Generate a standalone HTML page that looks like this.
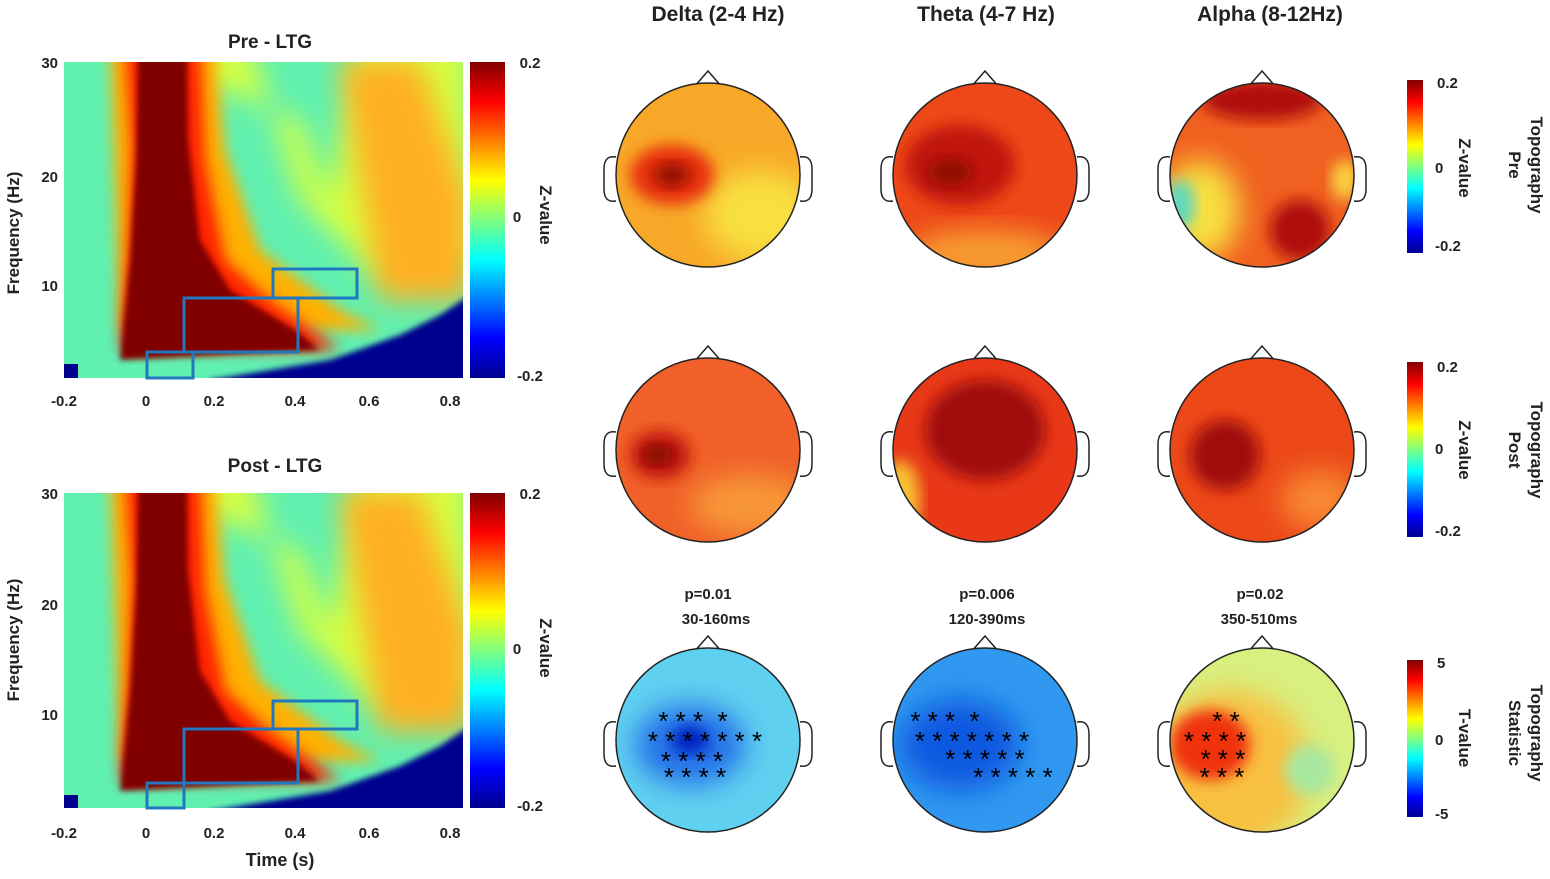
<!DOCTYPE html>
<html><head><meta charset="utf-8">
<style>
body{margin:0;background:#fff;}
svg text{font-family:"Liberation Sans",Arial,sans-serif;font-weight:bold;fill:#222;}
svg text.st{font-weight:normal;fill:#000;}
</style></head><body>
<svg width="1550" height="874" viewBox="0 0 1550 874" xmlns="http://www.w3.org/2000/svg">
<defs>
<linearGradient id="jet" x1="0" y1="1" x2="0" y2="0">
<stop offset="0" stop-color="#00008f"/><stop offset="0.125" stop-color="#0000ff"/>
<stop offset="0.375" stop-color="#00ffff"/><stop offset="0.625" stop-color="#ffff00"/>
<stop offset="0.875" stop-color="#ff0000"/><stop offset="1" stop-color="#800000"/>
</linearGradient>
<filter id="bl" x="-20%" y="-20%" width="140%" height="140%"><feGaussianBlur stdDeviation="7"/></filter>
<filter id="bl3" x="-20%" y="-20%" width="140%" height="140%"><feGaussianBlur stdDeviation="3"/></filter>
<filter id="bl2" x="-30%" y="-30%" width="160%" height="160%"><feGaussianBlur stdDeviation="14"/></filter>
<clipPath id="c1"><rect x="64" y="62" width="399" height="316"/></clipPath>
<clipPath id="c2"><rect x="64" y="493" width="399" height="315"/></clipPath>
<clipPath id="h1"><circle cx="708" cy="175" r="92"/></clipPath>
<clipPath id="h2"><circle cx="985" cy="175" r="92"/></clipPath>
<clipPath id="h3"><circle cx="1262" cy="175" r="92"/></clipPath>
<clipPath id="h4"><circle cx="708" cy="450" r="92"/></clipPath>
<clipPath id="h5"><circle cx="985" cy="450" r="92"/></clipPath>
<clipPath id="h6"><circle cx="1262" cy="450" r="92"/></clipPath>
<clipPath id="h7"><circle cx="708" cy="740" r="92"/></clipPath>
<clipPath id="h8"><circle cx="985" cy="740" r="92"/></clipPath>
<clipPath id="h9"><circle cx="1262" cy="740" r="92"/></clipPath>
<g id="hd" fill="#fff" stroke="#222" stroke-width="1.5"><polygon points="-14,-88 0,-104 14,-88"/><path d="M-92,-18 q-12,-2 -12,12 v20 q0,14 12,12"/><path d="M92,-18 q12,-2 12,12 v20 q0,14 -12,12"/></g>
<g id="heat">
<rect x="40" y="40" width="450" height="360" fill="#60f0b0"/>
<polygon points="100,40 250,40 300,200 380,280 470,260 470,40 360,40 330,200 300,120" fill="#d8ff40" filter="url(#bl2)"/>
<polygon points="340,60 420,60 470,200 470,300 380,300" fill="#ffb020" filter="url(#bl2)"/>
<polygon points="110,40 215,40 225,150 260,250 340,310 380,330 120,330" fill="#ffb000" filter="url(#bl)"/>
<polygon points="125,40 200,40 205,160 225,260 270,300 320,335 340,350 120,350 128,250 132,150" fill="#ff2000" filter="url(#bl)"/>
<polygon points="138,40 187,40 188,140 200,240 230,290 295,330 320,350 120,360 130,260 136,160" fill="#800000" filter="url(#bl3)"/>
<polygon points="470,295 470,400 200,400 210,380 330,360 400,335 440,315" fill="#00008f" filter="url(#bl3)"/>
<rect x="60" y="364" width="18" height="20" fill="#00008f"/>
</g>
</defs>

<!-- Left top -->
<text x="270" y="48" font-size="19" text-anchor="middle">Pre - LTG</text>
<g clip-path="url(#c1)"><use href="#heat"/></g>
<g fill="none" stroke="#1f78c0" stroke-width="3">
<rect x="147" y="352" width="46" height="26"/><rect x="184" y="298" width="114" height="54"/><rect x="273" y="269" width="84" height="29"/></g>
<rect x="470" y="62" width="35" height="316" fill="url(#jet)"/>
<g font-size="15"><text x="530" y="68" text-anchor="middle">0.2</text><text x="517" y="222" text-anchor="middle">0</text><text x="530" y="381" text-anchor="middle">-0.2</text>
<text x="58" y="68" text-anchor="end">30</text><text x="58" y="182" text-anchor="end">20</text><text x="58" y="291" text-anchor="end">10</text>
<text x="64" y="406" text-anchor="middle">-0.2</text><text x="146" y="406" text-anchor="middle">0</text><text x="214" y="406" text-anchor="middle">0.2</text><text x="295" y="406" text-anchor="middle">0.4</text><text x="369" y="406" text-anchor="middle">0.6</text><text x="450" y="406" text-anchor="middle">0.8</text></g>
<text transform="translate(540,215) rotate(90)" font-size="17" text-anchor="middle">Z-value</text>
<text transform="translate(19,233) rotate(-90)" font-size="17" text-anchor="middle">Frequency (Hz)</text>

<!-- Left bottom -->
<text x="275" y="472" font-size="19" text-anchor="middle">Post - LTG</text>
<g clip-path="url(#c2)"><use href="#heat" transform="translate(0,431)"/></g>
<g fill="none" stroke="#1f78c0" stroke-width="3">
<rect x="147" y="783" width="37" height="25"/><rect x="184" y="729" width="114" height="54"/><rect x="273" y="701" width="84" height="28"/></g>
<rect x="470" y="493" width="35" height="315" fill="url(#jet)"/>
<g font-size="15"><text x="530" y="499" text-anchor="middle">0.2</text><text x="517" y="654" text-anchor="middle">0</text><text x="530" y="811" text-anchor="middle">-0.2</text>
<text x="58" y="499" text-anchor="end">30</text><text x="58" y="610" text-anchor="end">20</text><text x="58" y="720" text-anchor="end">10</text>
<text x="64" y="838" text-anchor="middle">-0.2</text><text x="146" y="838" text-anchor="middle">0</text><text x="214" y="838" text-anchor="middle">0.2</text><text x="295" y="838" text-anchor="middle">0.4</text><text x="369" y="838" text-anchor="middle">0.6</text><text x="450" y="838" text-anchor="middle">0.8</text></g>
<text x="280" y="866" font-size="18" text-anchor="middle">Time (s)</text>
<text transform="translate(540,648) rotate(90)" font-size="17" text-anchor="middle">Z-value</text>
<text transform="translate(19,640) rotate(-90)" font-size="17" text-anchor="middle">Frequency (Hz)</text>

<!-- column titles -->
<g font-size="21"><text x="718" y="21" text-anchor="middle">Delta (2-4 Hz)</text><text x="986" y="21" text-anchor="middle">Theta (4-7 Hz)</text><text x="1270" y="21" text-anchor="middle">Alpha (8-12Hz)</text></g>

<use href="#hd" transform="translate(708,175)"/><use href="#hd" transform="translate(985,175)"/><use href="#hd" transform="translate(1262,175)"/>
<use href="#hd" transform="translate(708,450)"/><use href="#hd" transform="translate(985,450)"/><use href="#hd" transform="translate(1262,450)"/>
<use href="#hd" transform="translate(708,740)"/><use href="#hd" transform="translate(985,740)"/><use href="#hd" transform="translate(1262,740)"/>

<!-- topo row 1 -->
<g clip-path="url(#h1)"><rect x="600" y="70" width="220" height="210" fill="#f8a828"/>
<ellipse cx="760" cy="215" rx="55" ry="45" fill="#f8e040" filter="url(#bl2)"/>
<ellipse cx="672" cy="175" rx="42" ry="30" fill="#e83010" filter="url(#bl)"/><ellipse cx="672" cy="175" rx="18" ry="12" fill="#901000" filter="url(#bl)"/></g>
<g clip-path="url(#h2)"><rect x="880" y="70" width="220" height="210" fill="#ee4818"/>
<ellipse cx="985" cy="255" rx="80" ry="25" fill="#f8a030" filter="url(#bl2)"/>
<ellipse cx="960" cy="165" rx="55" ry="40" fill="#c01808" filter="url(#bl)"/><ellipse cx="950" cy="172" rx="22" ry="14" fill="#901000" filter="url(#bl)"/></g>
<g clip-path="url(#h3)"><rect x="1160" y="70" width="220" height="210" fill="#f06020"/>
<ellipse cx="1200" cy="210" rx="40" ry="50" fill="#f8e040" filter="url(#bl2)"/><ellipse cx="1180" cy="205" rx="15" ry="25" fill="#60d8c0" filter="url(#bl)"/>
<ellipse cx="1262" cy="100" rx="60" ry="20" fill="#b01008" filter="url(#bl)"/><ellipse cx="1300" cy="230" rx="30" ry="30" fill="#b01008" filter="url(#bl)"/>
<ellipse cx="1345" cy="180" rx="14" ry="20" fill="#f8d040" filter="url(#bl)"/></g>
<!-- row 2 -->
<g clip-path="url(#h4)"><rect x="600" y="345" width="220" height="210" fill="#f06028"/>
<ellipse cx="750" cy="505" rx="60" ry="30" fill="#f89838" filter="url(#bl2)"/>
<ellipse cx="660" cy="455" rx="30" ry="24" fill="#c01808" filter="url(#bl)"/><ellipse cx="658" cy="455" rx="14" ry="10" fill="#800800" filter="url(#bl)"/></g>
<g clip-path="url(#h5)"><rect x="880" y="345" width="220" height="210" fill="#e83818"/>
<ellipse cx="900" cy="500" rx="20" ry="40" fill="#f8c030" filter="url(#bl)"/>
<ellipse cx="985" cy="430" rx="60" ry="50" fill="#a01008" filter="url(#bl)"/></g>
<g clip-path="url(#h6)"><rect x="1160" y="345" width="220" height="210" fill="#ec4818"/>
<ellipse cx="1320" cy="500" rx="40" ry="30" fill="#f88830" filter="url(#bl2)"/>
<ellipse cx="1225" cy="455" rx="35" ry="35" fill="#a01008" filter="url(#bl)"/></g>
<!-- row 3 -->
<g clip-path="url(#h7)"><rect x="600" y="640" width="220" height="210" fill="#60d0f0"/>
<ellipse cx="690" cy="745" rx="55" ry="40" fill="#2070e8" filter="url(#bl2)"/><ellipse cx="690" cy="740" rx="18" ry="14" fill="#0020c0" filter="url(#bl)"/></g>
<g clip-path="url(#h8)"><rect x="880" y="640" width="220" height="210" fill="#3098f0"/>
<ellipse cx="960" cy="745" rx="60" ry="45" fill="#1058e0" filter="url(#bl2)"/></g>
<g clip-path="url(#h9)"><rect x="1160" y="640" width="220" height="210" fill="#d8f080"/>
<ellipse cx="1230" cy="770" rx="80" ry="80" fill="#f8c040" filter="url(#bl2)"/>
<ellipse cx="1210" cy="745" rx="40" ry="35" fill="#f03010" filter="url(#bl)"/><ellipse cx="1310" cy="770" rx="25" ry="25" fill="#a8e8a0" filter="url(#bl)"/></g>
<g fill="none" stroke="#222" stroke-width="1.5">
<circle cx="708" cy="175" r="92"/><circle cx="985" cy="175" r="92"/><circle cx="1262" cy="175" r="92"/>
<circle cx="708" cy="450" r="92"/><circle cx="985" cy="450" r="92"/><circle cx="1262" cy="450" r="92"/>
<circle cx="708" cy="740" r="92"/><circle cx="985" cy="740" r="92"/><circle cx="1262" cy="740" r="92"/></g>

<!-- stars -->
<g font-size="26" text-anchor="middle">
<text class="st" x="693" y="730">* * * &#160;*</text><text class="st" x="705" y="750">* * * * * * *</text><text class="st" x="692" y="770">* * * *</text><text class="st" x="695" y="786">* * * *</text>
<text class="st" x="945" y="730">* * * &#160;*</text><text class="st" x="972" y="750">* * * * * * *</text><text class="st" x="985" y="768">* * * * *</text><text class="st" x="1013" y="786">* * * * *</text>
<text class="st" x="1226" y="730">* *</text><text class="st" x="1215" y="750">* * * *</text><text class="st" x="1223" y="768">* * *</text><text class="st" x="1222" y="786">* * *</text>
</g>

<g font-size="15" text-anchor="middle"><text x="708" y="599">p=0.01</text><text x="716" y="624">30-160ms</text>
<text x="987" y="599">p=0.006</text><text x="987" y="624">120-390ms</text>
<text x="1260" y="599">p=0.02</text><text x="1259" y="624">350-510ms</text></g>

<!-- right colorbars -->
<rect x="1407" y="80" width="16" height="173" fill="url(#jet)"/>
<rect x="1407" y="362" width="16" height="175" fill="url(#jet)"/>
<rect x="1407" y="660" width="16" height="157" fill="url(#jet)"/>
<g font-size="15"><text x="1437" y="88">0.2</text><text x="1435" y="173">0</text><text x="1435" y="251">-0.2</text>
<text x="1437" y="372">0.2</text><text x="1435" y="454">0</text><text x="1435" y="536">-0.2</text>
<text x="1437" y="668">5</text><text x="1435" y="745">0</text><text x="1435" y="819">-5</text></g>
<g font-size="17" text-anchor="middle">
<text transform="translate(1459,168) rotate(90)">Z-value</text><text transform="translate(1459,450) rotate(90)">Z-value</text><text transform="translate(1459,738) rotate(90)">T-value</text>
<text transform="translate(1531,165) rotate(90)">Topography</text><text transform="translate(1509,165) rotate(90)">Pre</text>
<text transform="translate(1531,450) rotate(90)">Topography</text><text transform="translate(1509,450) rotate(90)">Post</text>
<text transform="translate(1531,733) rotate(90)">Topography</text><text transform="translate(1509,733) rotate(90)">Statistic</text></g>
</svg>
</body></html>
